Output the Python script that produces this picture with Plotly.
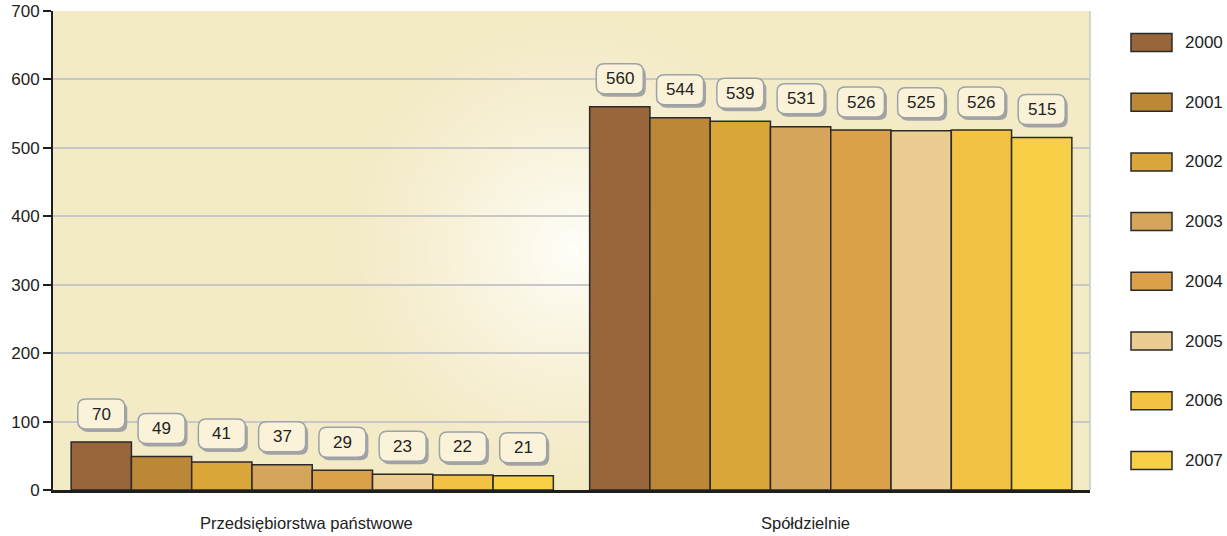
import base64, struct, zlib
import numpy as np
import plotly.graph_objects as go

# ---- data ----
categories = ["Przedsiębiorstwa państwowe", "Spółdzielnie"]
years = ["2000", "2001", "2002", "2003", "2004", "2005", "2006", "2007"]
values_przeds = [70, 49, 41, 37, 29, 23, 22, 21]
values_spold = [560, 544, 539, 531, 526, 525, 526, 515]
y_ticks = [0, 100, 200, 300, 400, 500, 600, 700]

colors = ["#98663A", "#BC8838", "#DAA63A", "#D6A55C", "#DBA14A", "#EBCC91", "#F4C242", "#F7D048"]
category_label_shift = [-6, -25]

# ---- layout geometry ----
W, H = 1227, 536
ML, MR, MT, MB = 53, 137, 11, 46
PW, PH = W - ML - MR, H - MT - MB
BARGAP = 0.07
FONT = "Liberation Sans, Arial, sans-serif"


def make_png(arr):
    h, w, _ = arr.shape
    raw = b"".join(b"\x00" + arr[r].tobytes() for r in range(h))

    def chunk(tag, data):
        c = struct.pack(">I", len(data)) + tag + data
        return c + struct.pack(">I", zlib.crc32(tag + data) & 0xFFFFFFFF)

    return (b"\x89PNG\r\n\x1a\n" + chunk(b"IHDR", struct.pack(">IIBBBBB", w, h, 8, 2, 0, 0, 0))
            + chunk(b"IDAT", zlib.compress(raw, 9)) + chunk(b"IEND", b""))


# radial glow background
yy, xx = np.mgrid[0:PH, 0:PW].astype(float)
cx, cy = 519.0, 239.0
d = np.sqrt((xx - cx) ** 2 + (yy - cy) ** 2)
t = np.clip(1 - d / 230.0, 0, 1) ** 1.3
edge = np.array([243, 234, 198], float)
centre = np.array([255, 254, 248], float)
img = (edge[None, None, :] + (centre - edge)[None, None, :] * t[..., None]).round().astype(np.uint8)
bg_uri = "data:image/png;base64," + base64.b64encode(make_png(img)).decode()

series = list(zip(values_przeds, values_spold))
x_idx = list(range(len(categories)))

fig = go.Figure()
for i, yr in enumerate(years):
    fig.add_trace(go.Bar(
        x=x_idx, y=list(series[i]), name=yr,
        marker=dict(color=colors[i], line=dict(color="#2A2A2A", width=1.5)),
        showlegend=False, hoverinfo="skip",
    ))

# value label boxes (rounded, with shadow)
n = len(years)
bw = (1 - BARGAP) / n


def rr_path(x0, x1, y0, y1, r):
    return (f"M{x0 + r},{y0} L{x1 - r},{y0} Q{x1},{y0} {x1},{y0 + r} L{x1},{y1 - r} "
            f"Q{x1},{y1} {x1 - r},{y1} L{x0 + r},{y1} Q{x0},{y1} {x0},{y1 - r} "
            f"L{x0},{y0 + r} Q{x0},{y0} {x0 + r},{y0} Z")


shapes = []
annotations = []
for i, yr in enumerate(years):
    for c in x_idx:
        v = series[i][c]
        xc = c - (1 - BARGAP) / 2 + (i + 0.5) * bw
        common = dict(type="path", xref="x", yref="y", xsizemode="pixel", ysizemode="pixel",
                      xanchor=xc, yanchor=v, layer="above")
        shapes.append(dict(common, path=rr_path(-21, 26, 10, 40, 8), fillcolor="#A3A3A3",
                           line=dict(width=0)))
        shapes.append(dict(common, path=rr_path(-23.5, 23.5, 13, 43, 8), fillcolor="#FAF3D9",
                           line=dict(color="#9DA2A8", width=1.5)))
        annotations.append(dict(x=xc, y=v, xref="x", yref="y", text=str(v), showarrow=False,
                                yshift=28, font=dict(family=FONT, size=17, color="#222222")))

# category labels
for c, name in enumerate(categories):
    annotations.append(dict(x=x_idx[c], y=0, xref="x", yref="y", text=name, showarrow=False,
                            yanchor="middle", yshift=-33, xshift=category_label_shift[c],
                            font=dict(family=FONT, size=16.5, color="#222222")))

# plot border (right)
shapes.append(dict(type="line", xref="paper", yref="paper", x0=1, x1=1, y0=0, y1=1,
                   line=dict(color="#C8C8C8", width=1.5), layer="below"))


def px(xp):
    return (xp - ML) / PW


def py(yp):
    return 1 - (yp - MT) / PH


# manual legend
for k, yr in enumerate(years):
    yc = 42.5 + k * 59.7
    shapes.append(dict(type="rect", xref="paper", yref="paper", x0=px(1131), x1=px(1172),
                       y0=py(yc + 9), y1=py(yc - 9), fillcolor=colors[k],
                       line=dict(color="#2A2A2A", width=1.5)))
    annotations.append(dict(x=px(1183), y=py(yc), xref="paper", yref="paper", text=yr,
                            showarrow=False, xanchor="left", yanchor="middle",
                            font=dict(family=FONT, size=17, color="#222222")))

fig.update_layout(
    width=W, height=H,
    margin=dict(l=ML, r=MR, t=MT, b=MB, pad=0, autoexpand=False),
    paper_bgcolor="white", plot_bgcolor="#F3EAC6",
    barmode="group", bargap=BARGAP, bargroupgap=0,
    font=dict(family=FONT, size=16, color="#222222"),
    images=[dict(source=bg_uri, xref="paper", yref="paper", x=0, y=1, sizex=1, sizey=1,
                 sizing="stretch", layer="below", xanchor="left", yanchor="top")],
    shapes=shapes, annotations=annotations, showlegend=False,
)
fig.update_xaxes(range=[-0.5, 1.5], tickvals=x_idx, showticklabels=False, showgrid=False,
                 zeroline=False, showline=True, linecolor="#1E1E1E", linewidth=2.5,
                 ticks="", automargin=False)
fig.update_yaxes(range=[0, 700], tickvals=y_ticks, showgrid=True, gridcolor="#C8C8C8", gridwidth=1.5,
                 zeroline=False, showline=True, linecolor="#1E1E1E", linewidth=2,
                 ticks="outside", ticklen=8, tickwidth=1.5, tickcolor="#1E1E1E", automargin=False,
                 tickfont=dict(family=FONT, size=17, color="#222222"))

fig.write_html("out.html", config={"displayModeBar": False},
               post_script="document.body.style.margin='0';document.body.style.overflow='hidden';")
